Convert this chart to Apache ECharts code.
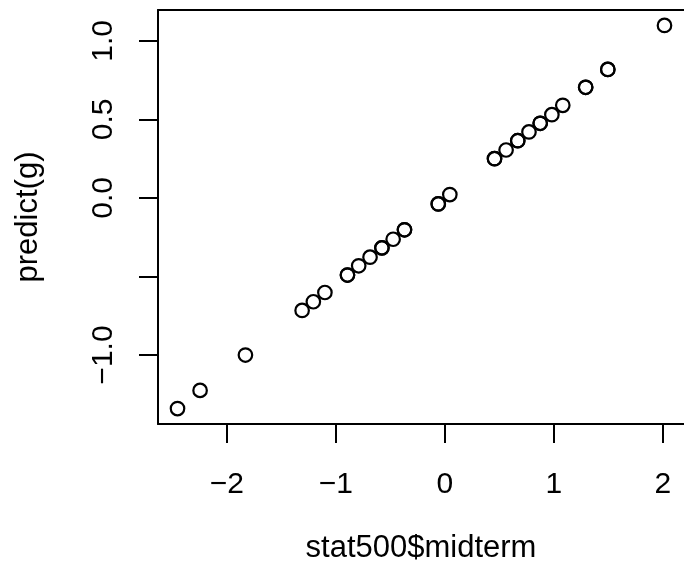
<!DOCTYPE html>
<html>
<head>
<meta charset="utf-8">
<script src="https://cdn.jsdelivr.net/npm/echarts@6/dist/echarts.min.js"></script>
<style>
  html, body { margin: 0; padding: 0; background: #fff; }
  #main { width: 684px; height: 576px; }
</style>
</head>
<body>
<div id="main"></div>
<script>
// data (repeated values drawn twice, as in the original)
var midterm = [-2.452, -2.245, -1.829, -1.309, -1.206, -1.100, -0.893, -0.893, -0.790, -0.686,
               -0.577, -0.577, -0.474, -0.370, -0.370, -0.060, -0.060, 0.046, 0.456, 0.456,
               0.562, 0.669, 0.669, 0.772, 0.875, 0.875, 0.982, 1.082, 1.292, 1.292,
               1.495, 1.495, 2.015];
var predicted = [-1.341, -1.225, -1.000, -0.716, -0.661, -0.602, -0.491, -0.491, -0.432, -0.377,
                 -0.318, -0.318, -0.263, -0.203, -0.203, -0.038, -0.038, 0.021, 0.250, 0.250,
                 0.305, 0.364, 0.364, 0.420, 0.475, 0.475, 0.530, 0.589, 0.704, 0.704,
                 0.818, 0.818, 1.098];
var xTicks = [-2, -1, 0, 1, 2];
var yTicks = [-1, -0.5, 0, 0.5, 1];
var yLabels = [-1, 0, 0.5, 1];   // R drops the -0.5 label

var points = midterm.map(function (v, i) { return [v, predicted[i]]; });

var font = 'Liberation Sans, Arial, sans-serif';
function minus(s) { return String(s).replace('-', '\u2212'); }

var myChart = echarts.init(document.getElementById('main'));
var option = {
    animation: false,
    grid: { left: 158, top: 10, bottom: 152, right: -4 },
    xAxis: [{
        type: 'value',
        min: -2.631, max: 2.194,
        name: 'stat500$midterm',
        nameLocation: 'middle',
        nameGap: 109,
        nameTextStyle: { color: '#000', fontSize: 31, fontFamily: font },
        splitLine: { show: false },
        axisLine: { show: true, onZero: false, lineStyle: { color: '#000', width: 2 } },
        axisTick: { show: true, length: 19, inside: false, customValues: xTicks,
                    lineStyle: { color: '#000', width: 2 } },
        axisLabel: { customValues: xTicks, margin: 46, color: '#000', fontSize: 30, fontFamily: font,
                     formatter: function (v) { return minus(v); } }
    }, {
        // top edge of the box
        type: 'value', position: 'top',
        min: -2.631, max: 2.194,
        splitLine: { show: false },
        axisLine: { show: true, onZero: false, lineStyle: { color: '#000', width: 2 } },
        axisTick: { show: false },
        axisLabel: { show: false }
    }],
    yAxis: {
        type: 'value',
        min: -1.439, max: 1.196,
        name: 'predict(g)',
        nameLocation: 'middle',
        nameGap: 114,
        nameRotate: 90,
        nameTextStyle: { color: '#000', fontSize: 31, fontFamily: font },
        splitLine: { show: false },
        axisLine: { show: true, onZero: false, lineStyle: { color: '#000', width: 2 } },
        axisTick: { show: true, length: 19, customValues: yTicks,
                    lineStyle: { color: '#000', width: 2 } },
        axisLabel: { customValues: yLabels, rotate: 90, margin: 39, color: '#000', fontSize: 30,
                     fontFamily: font,
                     formatter: function (v) { return minus(v.toFixed(1)); } }
    },
    series: [{
        type: 'scatter',
        data: points,
        symbol: 'circle',
        symbolSize: 13.5,
        itemStyle: { color: 'rgba(0,0,0,0)', borderColor: '#000', borderWidth: 2.2, opacity: 1 }
    }]
};
myChart.setOption(option);
</script>
</body>
</html>
